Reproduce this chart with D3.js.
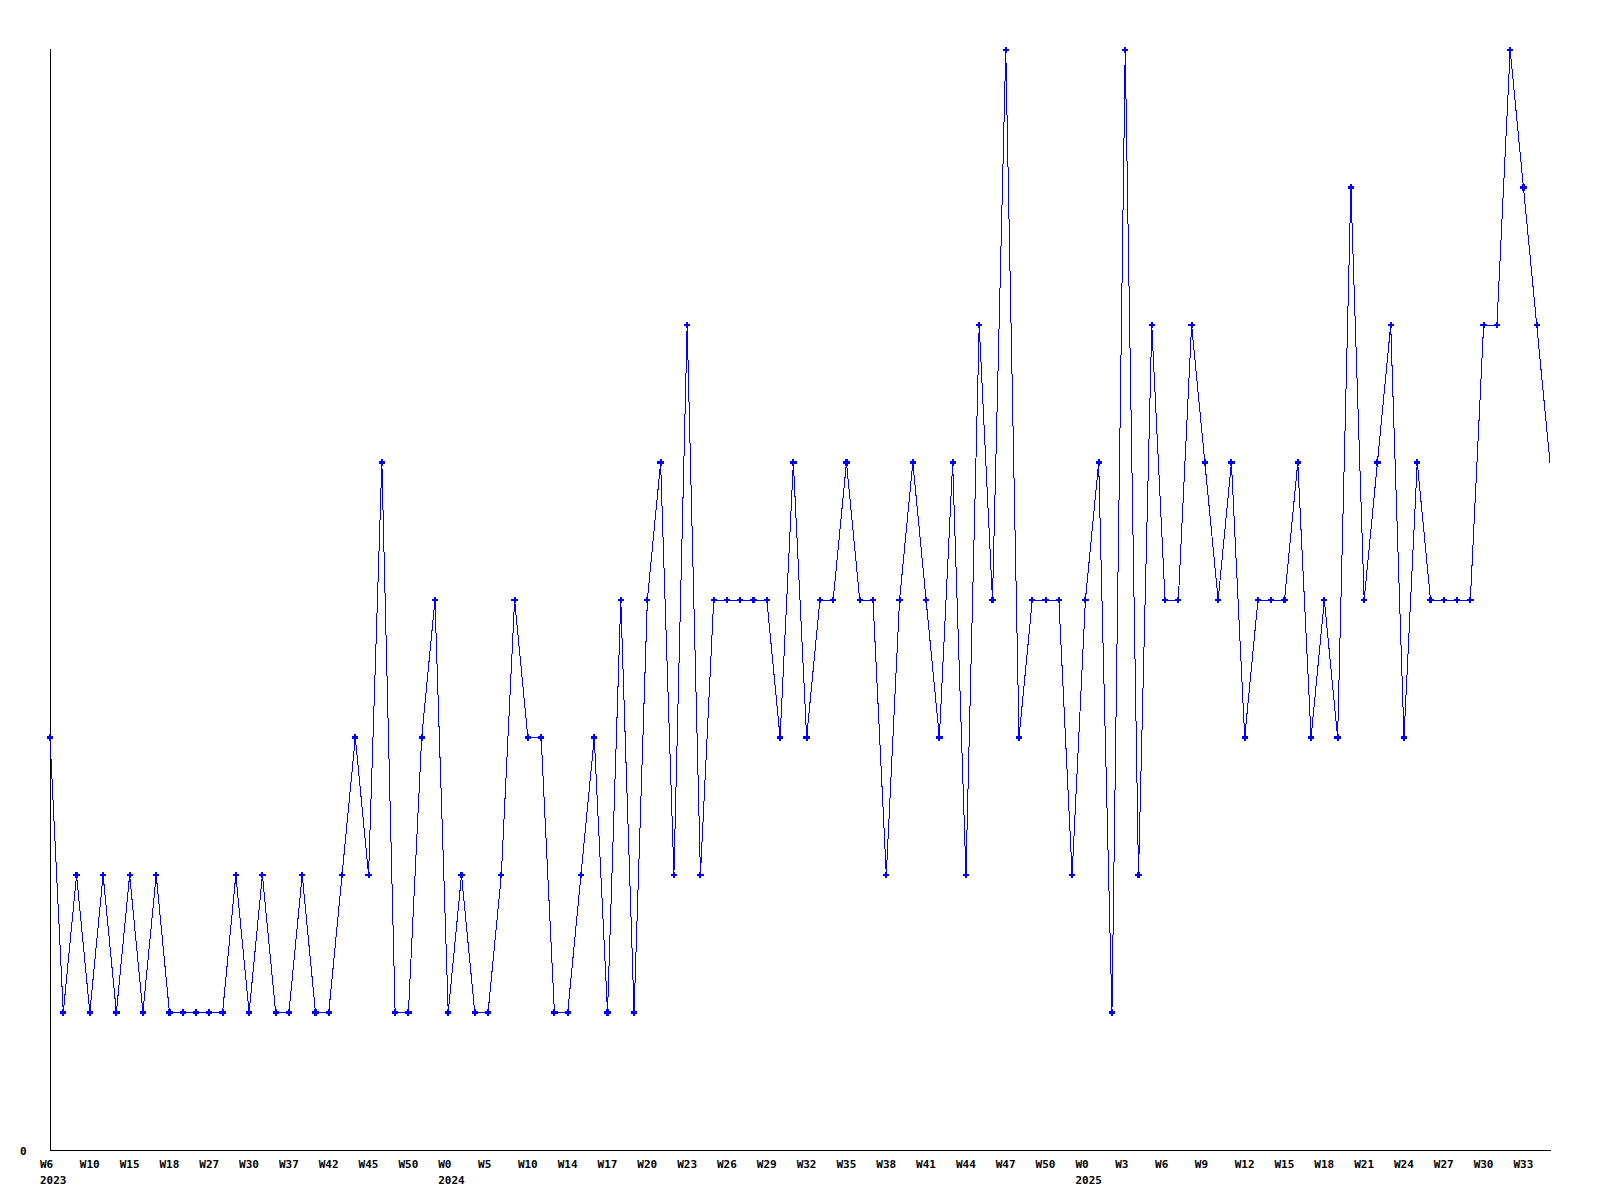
<!DOCTYPE html>
<html>
<head>
<meta charset="utf-8">
<script src="https://cdn.jsdelivr.net/npm/d3@7"></script>
<style>
  html, body { margin: 0; padding: 0; background: #ffffff; }
  svg { display: block; }
  .lbl { font-family: "DejaVu Sans Mono", "Liberation Mono", monospace; font-weight: bold; font-size: 11px; fill: #000; }
</style>
</head>
<body>
<script>
// ---- data ----
const values = [
  3,1,2,1,2,1,2,1,2,1,
  1,1,1,1,2,1,2,1,1,2,
  1,1,2,3,2,5,1,1,3,4,
  1,2,1,1,2,4,3,3,1,1,
  2,3,1,4,1,4,5,2,6,2,
  4,4,4,4,4,3,5,3,4,4,
  5,4,4,2,4,5,4,3,5,2,
  6,4,8,3,4,4,4,2,4,5,
  1,8,2,6,4,4,6,5,4,5,
  3,4,4,4,5,3,4,3,7,4,
  5,6,3,5,4,4,4,4,6,6,
  8,7,6,5
];
const weekTicks = ["W6","W10","W15","W18","W27","W30","W37","W42","W45","W50",
  "W0","W5","W10","W14","W17","W20","W23","W26","W29","W32",
  "W35","W38","W41","W44","W47","W50","W0","W3","W6","W9",
  "W12","W15","W18","W21","W24","W27","W30","W33"];
const yearTickPos = [0, 10, 26];
const yearTickLabels = ["2023", "2024", "2025"];
const tickEvery = 3;
const yTickValues = [0];

(function () {
  const W = 1600, H = 1200;
  const mLeft = 50, mRight = 1550, mTop = 50, mBottom = 1150;

  const svg = d3.select("body").append("svg").attr("width", W).attr("height", H);

  const x = d3.scaleLinear().domain([0, values.length - 1]).range([mLeft, mRight]);
  const y = d3.scaleLinear().domain([0, 8]).range([mBottom, mTop]);

  // axis lines
  svg.append("line")
    .attr("x1", mLeft + 0.5).attr("x2", mLeft + 0.5)
    .attr("y1", mTop - 1).attr("y2", mBottom + 0.5)
    .attr("stroke", "#000").attr("stroke-width", 1).attr("shape-rendering", "crispEdges");
  svg.append("line")
    .attr("x1", mLeft).attr("x2", mRight + 1)
    .attr("y1", mBottom + 0.5).attr("y2", mBottom + 0.5)
    .attr("stroke", "#000").attr("stroke-width", 1).attr("shape-rendering", "crispEdges");

  // y tick label
  svg.selectAll("text.ylbl").data(yTickValues).enter().append("text")
    .attr("class", "lbl ylbl")
    .attr("x", 20)
    .attr("y", d => y(d) + 5)
    .text(d => d);

  // x tick labels
  svg.selectAll("text.xlbl").data(weekTicks).enter().append("text")
    .attr("class", "lbl xlbl")
    .attr("x", (d, i) => x(i * tickEvery) - 10)
    .attr("y", 1168)
    .text(d => d);

  // year labels
  svg.selectAll("text.yrlbl").data(yearTickPos).enter().append("text")
    .attr("class", "lbl yrlbl")
    .attr("x", d => x(d * tickEvery) - 10)
    .attr("y", 1183.5)
    .text((d, i) => yearTickLabels[i]);

  // line
  const line = d3.line().x((d, i) => x(i)).y(d => y(d));
  svg.append("path")
    .datum(values)
    .attr("d", line)
    .attr("fill", "none")
    .attr("stroke", "#0000ff")
    .attr("stroke-width", 1)
    .attr("shape-rendering", "crispEdges");

  // markers
  const sym = d3.symbol().type(d3.symbolCross).size(22);
  svg.selectAll("path.mk").data(values.slice(0, values.length - 1)).enter().append("path")
    .attr("class", "mk")
    .attr("transform", (d, i) => `translate(${x(i)},${y(d)})`)
    .attr("d", sym)
    .attr("fill", "#0000ff")
    .attr("shape-rendering", "crispEdges");
})();
</script>
</body>
</html>
